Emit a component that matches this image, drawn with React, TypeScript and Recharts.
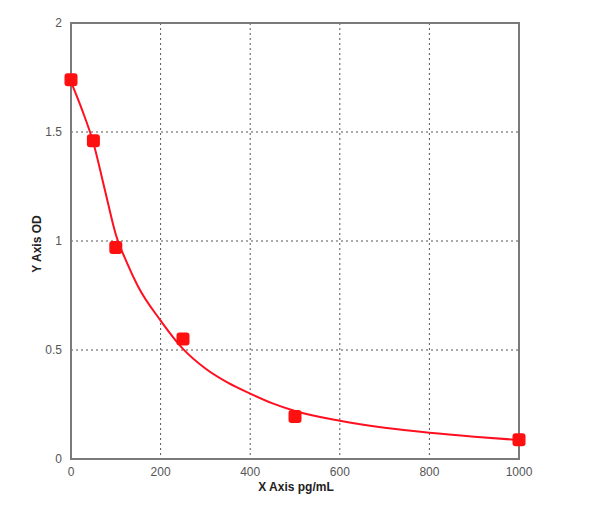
import React from 'react';
import { ComposedChart, Line, Scatter, XAxis, YAxis, CartesianGrid, ReferenceArea } from 'recharts';

// standard points (pg/mL, OD)
const standardX = [0, 50, 100, 250, 500, 1000];
const standardOD = [1.74, 1.46, 0.97, 0.55, 0.195, 0.088];

// fitted curve
const curveX = [0, 25, 50, 75, 100, 125, 150, 200, 250, 300, 350, 400, 450, 500, 600, 700, 800, 900, 1000];
const curveOD = [1.73, 1.6, 1.45, 1.24, 1.03, 0.9, 0.79, 0.635, 0.505, 0.415, 0.35, 0.3, 0.255, 0.22, 0.175, 0.143, 0.12, 0.102, 0.087];

const xTicks = [0, 200, 400, 600, 800, 1000];
const yTicks = [0, 0.5, 1, 1.5, 2];

const points = standardX.map((x, i) => ({ x, od: standardOD[i] }));
const curve = curveX.map((x, i) => ({ x, od: curveOD[i] }));

const SquareDot = (props: any) => {
  const { cx, cy } = props;
  if (cx == null || cy == null) return null;
  return <rect x={cx - 6.5} y={cy - 6.5} width={13} height={13} rx={3} fill="#ff1010" />;
};

const tickStyle = { fill: '#555', fontSize: 12, fontFamily: 'Arial, "Liberation Sans", sans-serif' };
const labelStyle: React.CSSProperties = {
  position: 'absolute',
  fontFamily: 'Arial, "Liberation Sans", sans-serif',
  fontWeight: 'bold',
  fontSize: 12,
  color: '#222',
  whiteSpace: 'nowrap',
};

const App: React.FC = () => {
  return (
    <div style={{ position: 'absolute', left: 0, top: 0, width: 600, height: 523, background: '#fff' }}>
      <ComposedChart width={600} height={523} margin={{ top: 23, right: 81, bottom: 34, left: 41 }}>
        <CartesianGrid stroke="#555" strokeDasharray="2 3" />
        <XAxis
          type="number"
          dataKey="x"
          domain={[0, 1000]}
          ticks={xTicks}
          height={30}
          axisLine={false}
          tickLine={false}
          tickMargin={2}
          tick={tickStyle}
          allowDuplicatedCategory={false}
        />
        <YAxis
          type="number"
          domain={[0, 2]}
          ticks={yTicks}
          width={30}
          axisLine={false}
          tickLine={false}
          tickMargin={3}
          tick={tickStyle}
        />
        <ReferenceArea x1={0} x2={1000} y1={0} y2={2} fill="none" stroke="#7a7a7a" strokeWidth={2} ifOverflow="visible" />
        <Line
          data={curve}
          dataKey="od"
          type="monotone"
          stroke="#ff1020"
          strokeWidth={2}
          dot={false}
          isAnimationActive={false}
        />
        <Scatter data={points} dataKey="od" shape={SquareDot} isAnimationActive={false} />
      </ComposedChart>
      <div style={{ ...labelStyle, left: 296, top: 487, transform: 'translate(-50%, -50%)' }}>X Axis pg/mL</div>
      <div style={{ ...labelStyle, left: 37, top: 244, transform: 'translate(-50%, -50%) rotate(-90deg)' }}>Y Axis OD</div>
    </div>
  );
};

export default App;
